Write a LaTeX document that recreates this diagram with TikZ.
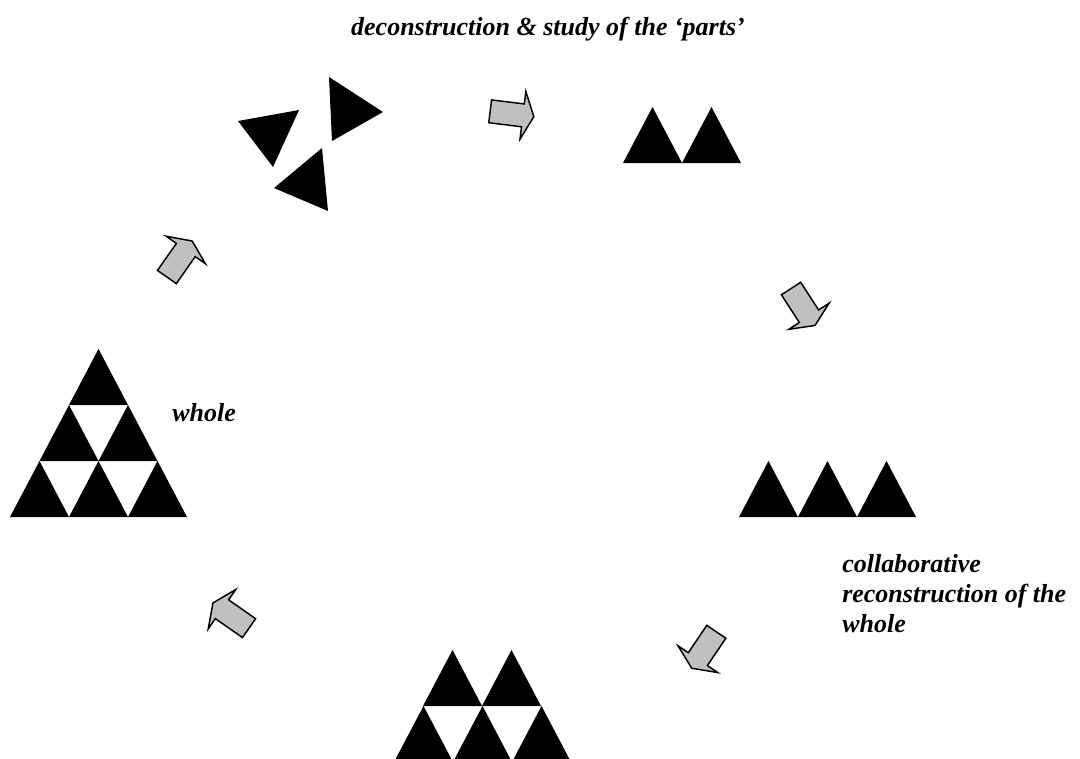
\documentclass[tikz,border=0pt]{standalone}
\usepackage{fontspec}
\setmainfont{Liberation Serif}
\usepackage{tikz}
\definecolor{ArrowGray}{HTML}{C0C0C0}
\tikzset{
  piece/.style={fill=black},
  blockarrow/.style={fill=ArrowGray, draw=black, line width=1.1pt, line join=miter},
  caption/.style={inner sep=0pt, font=\bfseries\itshape\fontsize{19.5}{22.5}\selectfont}
}
% up-pointing triangle, bottom left corner at (#1,#2)
\newcommand{\uptri}[2]{\fill[piece] (#1,#2) -- ++(59,0) -- ++(-29.5,-56) -- cycle;}
% block arrow centred at (#1,#2), pointing at angle #3
\newcommand{\blockarrow}[3]{\draw[blockarrow, shift={(#1,#2)}, rotate=#3]
  (-22,-11.5) -- (11,-11.5) -- (11,-24) -- (22,0) -- (11,24) -- (11,11.5) -- (-22,11.5) -- cycle;}

\begin{document}
\begin{tikzpicture}[x=0.75pt, y=-0.75pt]
  \useasboundingbox (0,0) rectangle (1080,758);
  % Labels
  \node[caption, anchor=base] (parts) at (548,35) {deconstruction \& study of the ‘parts’};
  \node[caption, anchor=base west] (whole) at (172,421) {whole};
  \node[caption, anchor=north west, align=left] (collab) at (842,554)
    {collaborative\\reconstruction of the\\whole};
  % Whole (left)
  \foreach \x in {10,69,128} {\uptri{\x}{517}}
  \foreach \x in {39.5,98.5} {\uptri{\x}{461}}
  \uptri{69}{405}
  % Scattered parts (top left)
  \fill[piece] (238,121) -- (299,110) -- (273,167) -- cycle;
  \fill[piece] (329,77) -- (383,112) -- (332,141) -- cycle;
  \fill[piece] (322,148) -- (328,211) -- (274,188) -- cycle;
  % Pair (top right)
  \foreach \x in {623,682} {\uptri{\x}{163}}
  % Row of three (right)
  \foreach \x in {739,798,857} {\uptri{\x}{517}}
  % Partial rebuild (bottom)
  \foreach \x in {423,482} {\uptri{\x}{706}}
  \foreach \x in {394,453,512} {\uptri{\x}{762}}
  % Cycle arrows
  \blockarrow{512}{114}{-7}
  \blockarrow{803}{307}{-57}
  \blockarrow{704}{650}{-124}
  \blockarrow{231}{615.5}{145}
  \blockarrow{179.5}{259}{55}
\end{tikzpicture}
\end{document}
